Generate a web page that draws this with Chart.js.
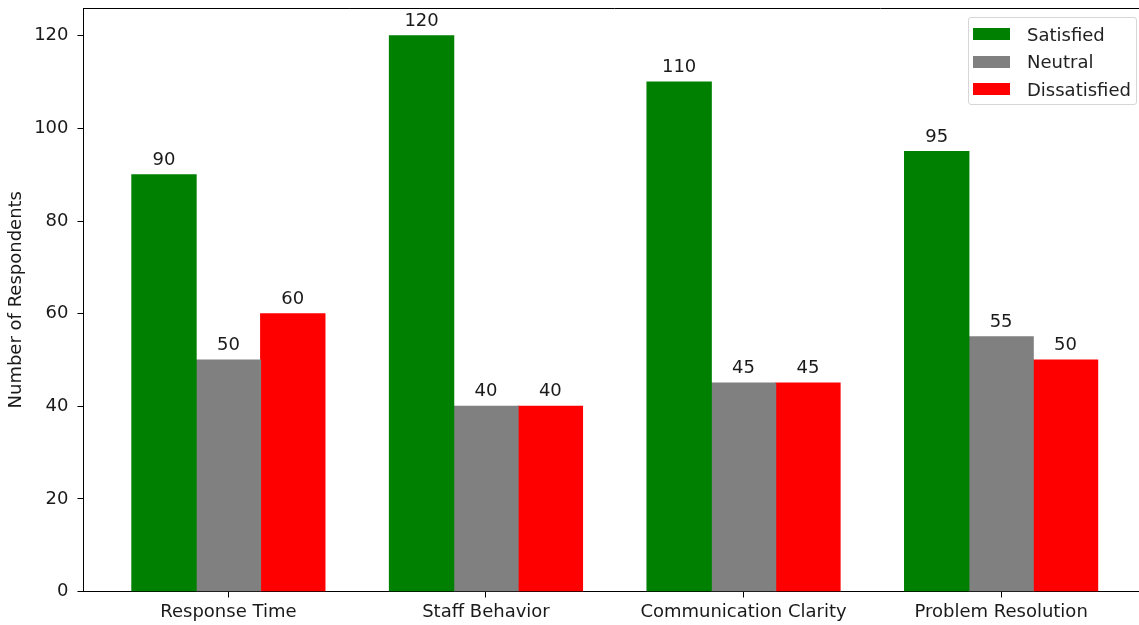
<!DOCTYPE html>
<html>
<head>
<meta charset="utf-8">
<script src="https://cdn.jsdelivr.net/npm/chart.js@4"></script>
<style>
  html, body { margin: 0; padding: 0; overflow: hidden; background: #fff; }
  #wrap { position: relative; width: 1146px; height: 625px; }
  #legend {
    position: absolute; left: 968px; top: 17px; width: 169px; height: 88px;
    border: 1px solid #d6d6d6; border-radius: 3px; background: rgba(255,255,255,.8);
    font: 18px "DejaVu Sans"; color: #222; box-sizing: border-box;
  }
  .row { position: absolute; left: 4px; height: 20px; display: flex; align-items: center; }
  .sw { width: 37px; height: 12px; margin-right: 17px; }
</style>
</head>
<body>
<div id="wrap">
  <canvas id="chart" width="1146" height="625"></canvas>
  <div id="legend"></div>
</div>
<script>
/* data */
const categories   = ['Response Time', 'Staff Behavior', 'Communication Clarity', 'Problem Resolution'];
const satisfied    = [90, 120, 110, 95];
const neutral      = [50, 40, 45, 55];
const dissatisfied = [60, 40, 45, 50];
const yTicks       = [0, 20, 40, 60, 80, 100, 120];

const FONT = { family: 'DejaVu Sans', size: 18 };
const INK  = '#1a1a1a';

const series = [
  { label: 'Satisfied',    values: satisfied,    color: '#008000' },
  { label: 'Neutral',      values: neutral,      color: '#808080' },
  { label: 'Dissatisfied', values: dissatisfied, color: '#ff0000' },
];

// value above each bar
const valueLabels = {
  id: 'valueLabels',
  afterDatasetsDraw(chart) {
    const ctx = chart.ctx;
    ctx.save();
    ctx.font = `${FONT.size}px "${FONT.family}"`;
    ctx.fillStyle = INK;
    ctx.textAlign = 'center';
    ctx.textBaseline = 'alphabetic';
    chart.data.datasets.forEach((ds, di) => {
      chart.getDatasetMeta(di).data.forEach((bar, i) => {
        ctx.fillText(ds.data[i].y, bar.x, bar.y - 10);
      });
    });
    ctx.restore();
  }
};

// top spine (matplotlib frame)
const topSpine = {
  id: 'topSpine',
  afterDraw(chart) {
    const { ctx, chartArea: a } = chart;
    ctx.save();
    ctx.strokeStyle = '#000';
    ctx.lineWidth = 1;
    ctx.beginPath();
    ctx.moveTo(a.left, a.top + 0.5);
    ctx.lineTo(a.right, a.top + 0.5);
    ctx.stroke();
    ctx.restore();
  }
};

const noPad = ax => { ax.paddingTop = ax.paddingBottom = ax.paddingLeft = ax.paddingRight = 0; };

new Chart(document.getElementById('chart').getContext('2d'), {
  type: 'bar',
  data: {
    datasets: series.map(s => ({
      label: s.label,
      data: s.values.map((v, i) => ({ x: i, y: v })),
      backgroundColor: s.color,
      borderWidth: 0,
      inflateAmount: 0.5,
      barPercentage: 1,
      categoryPercentage: 0.75,
    })),
  },
  options: {
    responsive: false,
    animation: false,
    layout: { padding: { top: 8, left: 0, right: 0, bottom: 0 } },
    plugins: { legend: { display: false }, tooltip: { enabled: false } },
    scales: {
      x: {
        type: 'linear', min: -0.5625, max: 3.5625, offset: false,
        afterBuildTicks: ax => { ax.ticks = categories.map((_, i) => ({ value: i })); },
        afterFit: ax => { ax.height = 33.5; noPad(ax); },
        ticks: { font: FONT, color: INK, padding: 4, maxRotation: 0, autoSkip: false,
                 callback: v => categories[v] },
        grid: { display: true, offset: false, drawOnChartArea: false, drawTicks: true,
                tickLength: 6, tickColor: '#000' },
        border: { display: true, color: '#000', width: 1 },
      },
      y: {
        min: 0, max: 126,
        afterBuildTicks: ax => { ax.ticks = yTicks.map(v => ({ value: v })); },
        afterFit: ax => { ax.width = 83.5; noPad(ax); },
        ticks: { font: FONT, color: INK, padding: 9 },
        grid: { display: true, drawOnChartArea: false, drawTicks: true, tickLength: 6, tickColor: '#000' },
        border: { display: true, color: '#000', width: 1 },
        title: { display: true, text: 'Number of Respondents', font: FONT, color: INK,
                 padding: { top: 6, bottom: 0 } },
      },
    },
  },
  plugins: [valueLabels, topSpine],
});

// legend box, top right
const legend = document.getElementById('legend');
const rowTops = [6, 33.5, 61];
series.forEach((s, i) => {
  const row = document.createElement('div');
  row.className = 'row';
  row.style.top = rowTops[i] + 'px';
  row.innerHTML = `<span class="sw" style="background:${s.color}"></span><span>${s.label}</span>`;
  legend.appendChild(row);
});
</script>
</body>
</html>
